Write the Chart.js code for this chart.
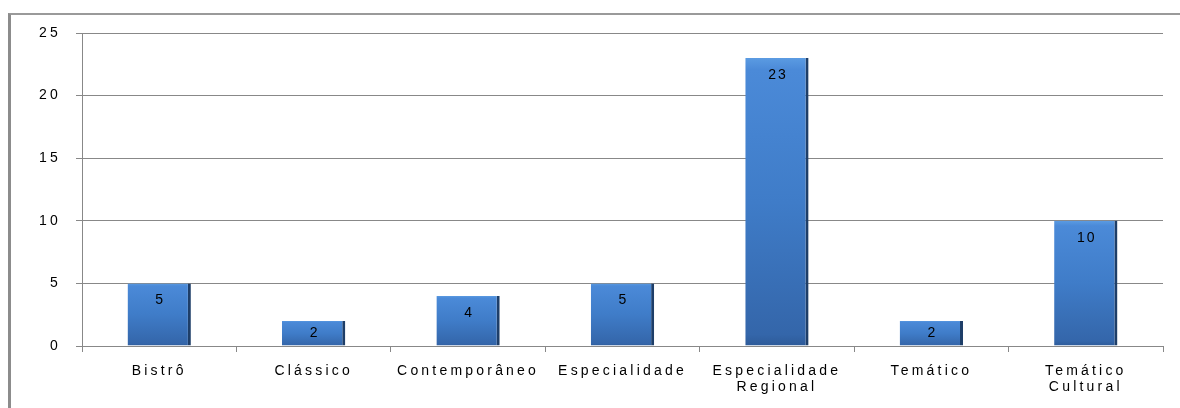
<!DOCTYPE html>
<html>
<head>
<meta charset="utf-8">
<script src="https://cdn.jsdelivr.net/npm/chart.js@4"></script>
<style>
  html, body { margin: 0; padding: 0; background: #fff; overflow: hidden; }
  #wrap { position: relative; width: 1180px; height: 408px; }
  #frame { position: absolute; left: 8px; top: 13px; width: 1200px; height: 420px;
    border-top: 2px solid #9a9a9a; border-left: 3px solid #8c8c8c; box-sizing: border-box; }
  canvas { position: absolute; left: 0; top: 0; }
</style>
</head>
<body>
<div id="wrap">
  <div id="frame"></div>
  <canvas id="chart" width="1180" height="408"></canvas>
</div>
<script>
const categories = ['Bistrô', 'Clássico', 'Contemporâneo', 'Especialidade', ['Especialidade', 'Regional'], 'Temático', ['Temático', 'Cultural']];
const values = [5, 2, 4, 5, 23, 2, 10];
const yTicks = [0, 5, 10, 15, 20, 25];

const FONT = 'Liberation Sans, Arial, sans-serif';
const SPACING = '3.2px';

function barFill(context) {
  const chart = context.chart;
  const yScale = chart.scales.y;
  if (!yScale || yScale.bottom === undefined) return '#3e7fcf';
  const top = yScale.getPixelForValue(values[context.dataIndex]);
  const base = yScale.getPixelForValue(0);
  const g = chart.ctx.createLinearGradient(0, top, 0, base);
  g.addColorStop(0, '#5b9be2');
  g.addColorStop(0.04, '#4b8ad8');
  g.addColorStop(0.5, '#3f7cc8');
  g.addColorStop(0.96, '#3466aa');
  g.addColorStop(1, '#2d5a98');
  return g;
}

// wide letter spacing like the original rendering
const spacing = {
  id: 'spacing',
  beforeLayout(chart) { chart.ctx.letterSpacing = SPACING; },
  beforeDraw(chart) { chart.ctx.letterSpacing = SPACING; }
};

const valueLabels = {
  id: 'valueLabels',
  afterDatasetsDraw(chart) {
    const ctx = chart.ctx;
    const meta = chart.getDatasetMeta(0);
    ctx.save();
    ctx.letterSpacing = '2px';
    ctx.font = '14px ' + FONT;
    ctx.fillStyle = '#000';
    ctx.textAlign = 'center';
    ctx.textBaseline = 'middle';
    meta.data.forEach((bar, i) => {
      const h = bar.base - bar.y;
      ctx.fillText(String(values[i]), bar.x + 1, bar.y + Math.min(17, h / 2));
    });
    ctx.restore();
  }
};

new Chart(document.getElementById('chart'), {
  type: 'bar',
  data: {
    labels: categories,
    datasets: [{
      data: values,
      backgroundColor: barFill,
      borderColor: '#1e3e68',
      borderWidth: { top: 0, left: 0, right: 3, bottom: 0 },
      borderSkipped: false,
      barPercentage: 0.41,
      categoryPercentage: 1
    }]
  },
  options: {
    responsive: false,
    animation: false,
    layout: { padding: { top: 33, right: 17, left: 0, bottom: 0 } },
    plugins: { legend: { display: false }, tooltip: { enabled: false } },
    scales: {
      x: {
        grid: { display: true, drawOnChartArea: false, drawTicks: true, tickLength: 6, color: '#888', offset: true },
        border: { display: true, color: '#888', width: 1 },
        ticks: { color: '#000', font: { family: FONT, size: 14, lineHeight: 1.15 }, padding: 11, maxRotation: 0, autoSkip: false },
        afterFit(s) { s.height = 62; }
      },
      y: {
        min: 0,
        max: 25,
        afterBuildTicks(s) { s.ticks = yTicks.map(v => ({ value: v })); },
        grid: { color: '#888', lineWidth: 1, tickLength: 6 },
        border: { display: true, color: '#888', width: 1 },
        ticks: { color: '#000', font: { family: FONT, size: 14 }, padding: 15 },
        afterFit(s) { s.width = 82; }
      }
    }
  },
  plugins: [spacing, valueLabels]
});
</script>
</body>
</html>
